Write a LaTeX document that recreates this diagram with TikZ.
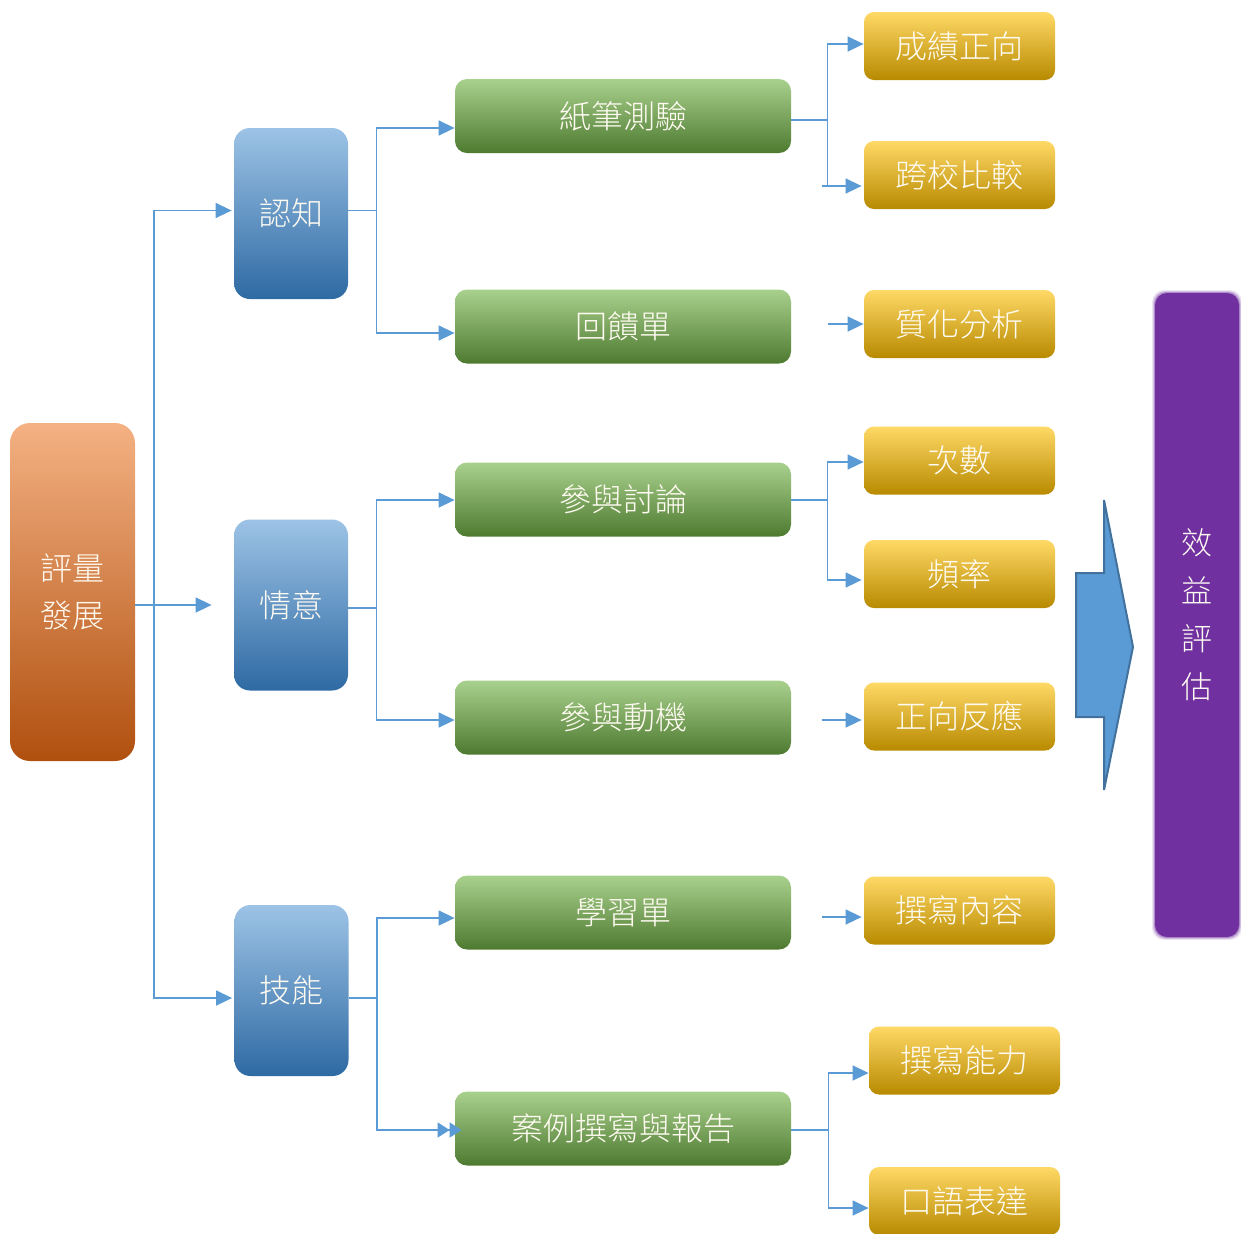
\documentclass[tikz,border=0pt]{standalone}
\usepackage{fontspec}
\newfontfamily\cjk{Noto Sans CJK TC Light}
\usetikzlibrary{arrows.meta}

\definecolor{orTop}{HTML}{F4B183}
\definecolor{orMid}{HTML}{ED7D31}
\definecolor{orBot}{HTML}{B0500F}
\definecolor{blTop}{HTML}{9DC3E6}
\definecolor{blMid}{HTML}{5B9BD5}
\definecolor{blBot}{HTML}{2E6AA3}
\definecolor{grTop}{HTML}{A9D18E}
\definecolor{grMid}{HTML}{72B048}
\definecolor{grBot}{HTML}{4E7A30}
\definecolor{yeTop}{HTML}{FFD966}
\definecolor{yeMid}{HTML}{FFC30A}
\definecolor{yeBot}{HTML}{B88A00}
\definecolor{lineblue}{HTML}{5B9BD5}
\definecolor{arrowfill}{HTML}{5B9BD5}
\definecolor{arrowedge}{HTML}{41719C}
\definecolor{effpurple}{HTML}{7030A0}
\definecolor{txt}{HTML}{FFFBF2}

\begin{document}
\begin{tikzpicture}[x=0.5pt,y=-0.5pt,
  box/.style={rectangle, inner sep=0pt, text=txt, align=center,
    font=\cjk\fontsize{16}{23.5}\selectfont},
  rootbox/.style={box, rounded corners=10pt, minimum width=62.5pt, minimum height=169pt,
    top color=orTop, middle color=orMid, bottom color=orBot},
  dimbox/.style={box, rounded corners=8pt, minimum width=57pt, minimum height=85.5pt,
    top color=blTop, middle color=blMid, bottom color=blBot},
  itembox/.style={box, rounded corners=6pt, minimum width=168pt, minimum height=37pt,
    top color=grTop, middle color=grMid, bottom color=grBot},
  resbox/.style={box, rounded corners=5pt, minimum width=95.5pt, minimum height=34pt,
    top color=yeTop, middle color=yeMid, bottom color=yeBot},
  link/.style={draw=lineblue, line width=0.75pt},
  conn/.style={link, -{Triangle[length=8pt,width=7.5pt]}},
  dconn/.style={link, -{Triangle[length=6pt,width=7.5pt]Triangle[length=6pt,width=7.5pt]}},
]
\useasboundingbox (0,0) rectangle (1241,1233);

% evaluation target (soft-edged purple panel)
\foreach \d/\o in {3/0.12, 2/0.2, 1/0.35}
  \fill[effpurple, opacity=\o, rounded corners=6pt] (1155-\d,293-\d) rectangle (1239+\d,937+\d);
\node[box, fill=effpurple, rounded corners=6pt, minimum width=42pt, minimum height=322pt,
      font=\cjk\fontsize{15.5}{24}\selectfont] (xiaoyi) at (1197,615) {效\\益\\評\\估};

% big block arrow
\filldraw[fill=arrowfill, draw=arrowedge, line width=1pt]
  (1076,573) -- (1104,573) -- (1104,500) -- (1133,647) -- (1104,790) -- (1104,717) -- (1076,717) -- cycle;

% root
\node[rootbox] (root) at (72.5,592) {評量\\發展};

% dimensions
\node[dimbox] (renzhi) at (291,213.5) {認知};
\node[dimbox] (qingyi) at (291,605) {情意};
\node[dimbox] (jineng) at (291.5,990.5) {技能};

% instruments
\node[itembox] (zhibi)  at (623,116)    {紙筆測驗};
\node[itembox] (huikui) at (623,326.5)  {回饋單};
\node[itembox] (taolun) at (623,499.5)  {參與討論};
\node[itembox] (dongji) at (623,717.5)  {參與動機};
\node[itembox] (xuexi)  at (623,912.5)  {學習單};
\node[itembox] (anli)   at (623,1128.5) {案例撰寫與報告};

% indicators
\node[resbox] (chengji)    at (959.5,46)    {成績正向};
\node[resbox] (kuaxiao)    at (959.5,175)   {跨校比較};
\node[resbox] (zhihua)     at (959.5,324)   {質化分析};
\node[resbox] (cishu)      at (959.5,460.5) {次數};
\node[resbox] (pinlu)      at (959.5,574)   {頻率};
\node[resbox] (zhengxiang) at (959.5,716.5) {正向反應};
\node[resbox] (neirong)    at (959.5,910.5) {撰寫內容};
\node[resbox] (nengli)     at (964.5,1060.5){撰寫能力};
\node[resbox] (kouyu)      at (964.5,1201)  {口語表達};

% root -> dimensions
\draw[conn] (root.east |- qingyi) -- ([shift={(-22,0)}]qingyi.west);
\coordinate (bus0) at (154,605);
\draw[conn] (bus0) |- ([shift={(-2,-3)}]renzhi.west);
\draw[conn] (bus0) |- ([shift={(-2,7.5)}]jineng.west);

% dimensions -> instruments
\draw[link] ([shift={(0,-3)}]renzhi.east) -- ++(28,0) coordinate (b1);
\draw[conn] (b1) |- ([shift={(0,12)}]zhibi.west);
\draw[conn] (b1) |- ([shift={(0,6.5)}]huikui.west);

\draw[link] ([shift={(0,3)}]qingyi.east) -- ++(28,0) coordinate (b2);
\draw[conn] (b2) |- ([shift={(0,0.5)}]taolun.west);
\draw[conn] (b2) |- ([shift={(0,2.5)}]dongji.west);

\draw[link] ([shift={(0,7.5)}]jineng.east) -- ++(28,0) coordinate (b3);
\draw[conn] (b3) |- ([shift={(0,5.5)}]xuexi.west);
\draw[dconn] (b3) |- ([shift={(7,1.5)}]anli.west);

% instruments -> indicators
\draw[link] ([shift={(0,4)}]zhibi.east) -- ++(36,0) coordinate (c1);
\draw[conn] (c1) |- ([shift={(0,-2)}]chengji.west);
\coordinate (s1) at ([shift={(-42,11)}]kuaxiao.west);
\draw[link] (c1) |- (s1);
\draw[conn] (s1) -- ([shift={(-2,11)}]kuaxiao.west);

\coordinate (s2) at ([shift={(-36,0)}]zhihua.west);
\draw[conn] (s2) -- (zhihua.west);

\draw[link] ([shift={(0,0.5)}]taolun.east) -- ++(36,0) coordinate (c3);
\draw[conn] (c3) |- ([shift={(0,1.5)}]cishu.west);
\draw[conn] (c3) |- ([shift={(-2,6)}]pinlu.west);

\coordinate (s4) at ([shift={(-42,3.5)}]zhengxiang.west);
\draw[conn] (s4) -- ([shift={(-2,3.5)}]zhengxiang.west);

\coordinate (s5) at ([shift={(-42,6.5)}]neirong.west);
\draw[conn] (s5) -- ([shift={(-2,6.5)}]neirong.west);

\draw[link] ([shift={(0,1.5)}]anli.east) -- ++(37,0) coordinate (c6);
\draw[conn] (c6) |- ([shift={(0,12.5)}]nengli.west);
\draw[conn] (c6) |- ([shift={(0,7)}]kouyu.west);
\end{tikzpicture}
\end{document}
